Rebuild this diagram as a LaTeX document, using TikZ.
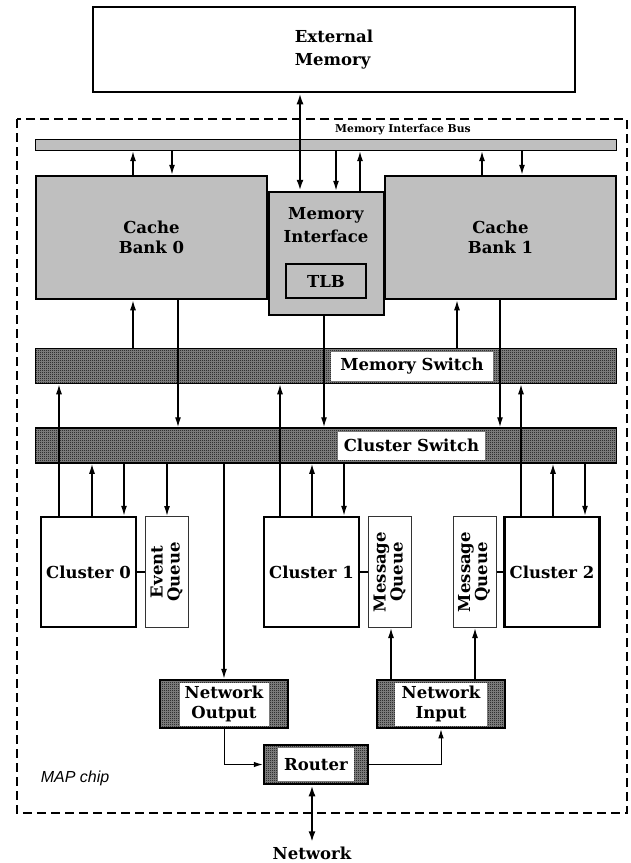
\documentclass[tikz,border=0pt]{standalone}
\usepackage{fontspec}
\usepackage{graphicx}
\setmainfont{DejaVu Serif}
\newfontfamily\chipfont{Liberation Sans}
\usetikzlibrary{arrows.meta,patterns}

\definecolor{cachegray}{gray}{0.75}

% fine checkerboard used for the switches and the network boxes
\pgfdeclarepatternformonly{dither}{\pgfqpoint{0pt}{0pt}}{\pgfqpoint{2pt}{2pt}}{\pgfqpoint{2pt}{2pt}}{%
  \pgfpathrectangle{\pgfqpoint{0pt}{0pt}}{\pgfqpoint{1pt}{1pt}}%
  \pgfpathrectangle{\pgfqpoint{1pt}{1pt}}{\pgfqpoint{1pt}{1pt}}%
  \pgfusepath{fill}}

\newcommand{\queuetext}[2]{\rotatebox{90}{\begin{tabular}{@{}c@{}}#1\\[-3pt]#2\end{tabular}}}

\tikzset{
  lbl/.style={font=\bfseries\fontsize{16.5}{20}\selectfont, align=center},
  unit/.style={draw, line width=2.5pt, inner sep=0pt, lbl},
  bank/.style={unit, fill=cachegray},
  cluster/.style={unit, fill=white, minimum width=95pt, minimum height=110pt},
  queue/.style={draw=black!80, line width=1pt, fill=white, inner sep=0pt, lbl,
    minimum width=43pt, minimum height=111pt},
  dithered/.style={preaction={fill=black!45}, pattern=dither},
  switchbar/.style={draw, line width=1.5pt, dithered, inner sep=0pt,
    minimum width=581pt, minimum height=35pt},
  tag/.style={fill=white, inner sep=0pt, lbl},
  netbox/.style={draw, line width=2.5pt, dithered, inner sep=0pt},
  sig/.style={line width=1.4pt, -{Latex[length=10pt,width=6pt]}},
  bisig/.style={line width=2.2pt, {Latex[length=11pt,width=7pt]}-{Latex[length=11pt,width=7pt]}},
  netsig/.style={line width=1pt, -{Latex[length=9pt,width=5.5pt]}},
  wire/.style={line width=1.4pt}
}

\begin{document}
\begin{tikzpicture}[x=1pt,y=-1pt]
  \useasboundingbox (0,0) rectangle (631,863);

  % chip outline
  \draw[line width=1.3pt, dash pattern=on 9pt off 5pt] (17,119) rectangle (627,813);
  \node[font=\chipfont\itshape\fontsize{16}{18}\selectfont] (chip) at (75,778) {MAP chip};

  % memory side
  \node[unit, fill=white, minimum width=482pt, minimum height=85pt, align=left,
    font=\bfseries\fontsize{16.5}{23}\selectfont] (extmem) at (334,49.5) {External\\Memory};
  \node[draw, line width=1.2pt, fill=cachegray, inner sep=0pt,
    minimum width=581pt, minimum height=11pt] (bus) at (326,145) {};
  \node[font=\bfseries\fontsize{10.8}{12}\selectfont, inner sep=0pt] (buslabel) at (403,130) {Memory Interface Bus};

  \node[bank, minimum width=115pt, minimum height=123pt] (mi) at (326.5,253.5) {};
  \node[lbl, font=\bfseries\fontsize{16.5}{23}\selectfont] (mitext) at (326,225) {Memory\\Interface};
  \node[bank, minimum width=80pt, minimum height=34pt] (tlb) at (326,281) {TLB};
  \node[bank, minimum width=231pt, minimum height=123pt] (cb0) at (151.5,237.5) {Cache\\Bank 0};
  \node[bank, minimum width=231pt, minimum height=123pt] (cb1) at (500.5,237.5) {Cache\\Bank 1};

  % switches
  \node[switchbar] (memsw) at (326,366) {};
  \node[tag, minimum width=162pt, minimum height=29pt] (memswtag) at (412,366) {Memory Switch};
  \node[switchbar] (clsw) at (326,445.5) {};
  \node[tag, minimum width=147pt, minimum height=28pt] (clswtag) at (411.5,445.5) {Cluster Switch};

  % clusters and queues
  \node[cluster] (cl0) at (88.5,572) {Cluster 0};
  \node[queue] (evq) at (167,572) {\queuetext{Event}{Queue}};
  \node[cluster] (cl1) at (311.5,572) {Cluster 1};
  \node[queue] (mq1) at (390,572) {\queuetext{Message}{Queue}};
  \node[queue] (mq2) at (474.5,572) {\queuetext{Message}{Queue}};
  \node[cluster] (cl2) at (552,572) {Cluster 2};

  % network interface
  \node[netbox, minimum width=128pt, minimum height=48pt] (netout) at (224,704) {};
  \node[tag, minimum width=89pt, minimum height=43pt] (netouttag) at (netout) {Network\\Output};
  \node[netbox, minimum width=128pt, minimum height=48pt] (netin) at (441,704) {};
  \node[tag, minimum width=92pt, minimum height=43pt] (netintag) at (netin) {Network\\Input};
  \node[netbox, minimum width=104pt, minimum height=39pt] (router) at (316,764.5) {};
  \node[tag, minimum width=76pt, minimum height=33pt] (routertag) at (router) {Router};
  \node[lbl, anchor=base, inner sep=4pt] (net) at (312,859) {Network};

  % vertical signals
  \foreach \x/\a/\b in {133/cb0.north/bus.south, 172/bus.south/cb0.north,
      336/bus.south/mi.north, 360/mi.north/bus.south,
      482/cb1.north/bus.south, 522/bus.south/cb1.north,
      133/memsw.north/cb0.south, 178/cb0.south/clsw.north, 324/mi.south/clsw.north,
      457/memsw.north/cb1.south, 500/cb1.south/clsw.north,
      59/cl0.north/memsw.south, 92/cl0.north/clsw.south, 124/clsw.south/cl0.north,
      167/clsw.south/evq.north, 224/clsw.south/netout.north,
      280/cl1.north/memsw.south, 312/cl1.north/clsw.south, 344/clsw.south/cl1.north,
      391/netin.north/mq1.south, 475/netin.north/mq2.south,
      521/cl2.north/memsw.south, 553/cl2.north/clsw.south, 585/clsw.south/cl2.north}
    \draw[sig] (\x,0 |- \a) -- (\x,0 |- \b);

  \draw[bisig] (300,0 |- extmem.south) -- (300,0 |- mi.north);
  \draw[bisig] (router.south -| net.north) -- (net.north);

  % queues hang on their clusters
  \draw[wire] (cl0) -- (evq);
  \draw[wire] (cl1) -- (mq1);
  \draw[wire] (mq2) -- (cl2);

  \draw[netsig] (netout.south) |- (router.west);
  \draw[netsig] (router.east) -| (netin.south);
\end{tikzpicture}
\end{document}
